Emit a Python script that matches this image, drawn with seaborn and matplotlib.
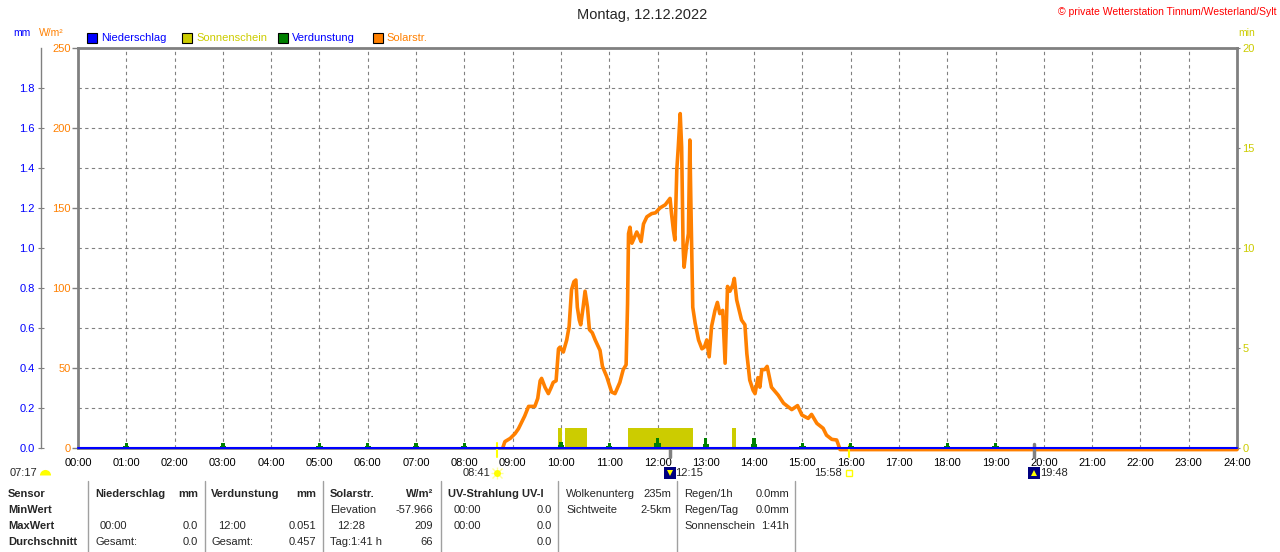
import numpy as np
import pandas as pd
import matplotlib
matplotlib.use("Agg")
import matplotlib.pyplot as plt
import matplotlib.transforms as mtransforms
from matplotlib.lines import Line2D
from matplotlib.patches import Rectangle
import seaborn as sns

# ---------------- data ----------------
solar_t = [8.80, 8.84, 8.95, 9.05, 9.12, 9.25, 9.33, 9.46, 9.52, 9.57, 9.60, 9.67, 9.74, 9.80,
           9.84, 9.90, 9.95, 9.98, 10.05, 10.12, 10.17, 10.22, 10.27, 10.31, 10.34, 10.38,
           10.41, 10.46, 10.50, 10.55, 10.59, 10.65, 10.71, 10.81, 10.86, 10.95, 11.05, 11.12,
           11.22, 11.29, 11.35, 11.38, 11.40, 11.43, 11.47, 11.50, 11.57, 11.62, 11.66, 11.71,
           11.78, 11.88, 11.96, 12.05, 12.16, 12.26, 12.29, 12.33, 12.36, 12.40, 12.43, 12.47,
           12.50, 12.53, 12.55, 12.60, 12.64, 12.67, 12.69, 12.73, 12.78, 12.85, 12.92, 12.97,
           13.02, 13.07, 13.12, 13.19, 13.24, 13.29, 13.35, 13.40, 13.45, 13.50, 13.56, 13.59,
           13.64, 13.74, 13.81, 13.85, 13.91, 13.98, 14.02, 14.08, 14.12, 14.16, 14.22, 14.27,
           14.36, 14.50, 14.61, 14.78, 14.90, 14.99, 15.12, 15.19, 15.30, 15.43, 15.50, 15.61,
           15.71, 15.76, 15.78, 24.0]
solar_v = [0.5, 4, 6, 9, 12, 20, 26, 26, 31, 42, 43.5, 38, 34, 38,
           41, 42, 62, 63, 60, 67.5, 76, 99, 104, 105, 88, 80,
           77, 88, 98, 88, 74, 72, 67.5, 61, 51, 44.5, 35, 34,
           41, 49, 52, 90, 134, 138, 128, 130, 135, 132, 129, 140,
           144.5, 146.5, 147, 150, 152, 156, 146.5, 136, 130, 174, 188, 209,
           188, 126, 113, 126, 134, 192.5, 155, 88, 78, 67.5, 62, 63,
           67.5, 57, 76, 86, 91, 84, 86, 53, 101, 98, 102, 106,
           92.5, 80, 77, 59, 42.5, 36, 34, 44, 38, 49, 49, 51,
           38, 33, 28, 24, 26.5, 20.6, 18.5, 21, 15.4, 12.3, 8, 5.4,
           5, 0.8, -1, -1]

rain_t = [0.0, 24.0]
rain_v = [0.0, 0.0]

sun_start = [9.93, 10.08, 11.38, 13.55]
sun_end = [10.02, 10.55, 12.73, 13.63]
sun_min = [1.0, 1.0, 1.0, 1.0]

evap_t = [1, 3, 5, 6, 7, 8, 10, 11, 12, 13, 14, 15, 16, 18, 19]
evap_v = [0.025, 0.025, 0.025, 0.025, 0.025, 0.025, 0.028, 0.025, 0.051, 0.05, 0.05,
          0.025, 0.027, 0.025, 0.025]

hour_labels = ["00:00", "01:00", "02:00", "03:00", "04:00", "05:00", "06:00", "07:00",
               "08:00", "09:00", "10:00", "11:00", "12:00", "13:00", "14:00", "15:00",
               "16:00", "17:00", "18:00", "19:00", "20:00", "21:00", "22:00", "23:00", "24:00"]
solar_ticks = [0, 50, 100, 150, 200, 250]
mm_ticks = [0.0, 0.2, 0.4, 0.6, 0.8, 1.0, 1.2, 1.4, 1.6, 1.8]
min_ticks = [0, 5, 10, 15, 20]

sunrise_t, sunrise_lbl = 8.683, "08:41"
sunset_t, sunset_lbl = 15.967, "15:58"
moonset_t, moonset_lbl = 12.25, "12:15"
moonrise_t, moonrise_lbl = 19.8, "19:48"
dawn_lbl = "07:17"

# ---------------- style ----------------
sns.set_style("white")
plt.rcParams['font.family'] = ['Liberation Sans', 'DejaVu Sans']
plt.rcParams['font.size'] = 8

C_BLUE = "#0000FF"
C_ORANGE = "#FF8000"
C_YEL = "#CCCC00"
C_GREEN = "#008000"
C_GRAY = "#808080"

W, H = 1280, 552
fig = plt.figure(figsize=(W / 100, H / 100), dpi=100)
L, R, T, B = 78, 1237, 48, 448
ax = fig.add_axes([L / W, 1 - B / H, (R - L) / W, (B - T) / H])


def fx(x):
    return x / W


def fy(y):
    return 1 - y / H


# solar radiation
df_solar = pd.DataFrame({"t": solar_t, "v": solar_v})
sns.lineplot(data=df_solar, x="t", y="v", ax=ax, color=C_ORANGE, linewidth=2.6,
             clip_on=False, zorder=3)
ax.set_xlim(0, 24)
ax.set_ylim(0, 250)
ax.set_xlabel("")
ax.set_ylabel("")
ax.set_xticks(range(25))
ax.set_xticklabels(hour_labels)
ax.set_yticks(solar_ticks)
ax.set_yticklabels([str(v) for v in solar_ticks])
ax.set_yticks(np.arange(25, 250, 50), minor=True)
ax.tick_params(axis='y', which='major', colors=C_GRAY, labelcolor=C_ORANGE, length=4,
               width=1, pad=1, labelsize=8)
ax.tick_params(axis='y', which='minor', length=0)
ax.tick_params(axis='x', length=0, pad=7, labelsize=8, labelcolor='black')
ax.grid(True, which='both', axis='y', color=C_GRAY, linestyle=(0, (3, 3)), linewidth=0.8)
ax.grid(True, which='major', axis='x', color=C_GRAY, linestyle=(0, (3, 3)), linewidth=0.8)
for s in ax.spines.values():
    s.set_color(C_GRAY)
    s.set_linewidth(2)

# sunshine (right axis, minutes)
ax_sun = ax.twinx()
ax_sun.set_ylim(0, 20)
ax_sun.bar(sun_start, sun_min, width=np.subtract(sun_end, sun_start), align='edge',
           color=C_YEL, linewidth=0, zorder=2)
ax_sun.set_yticks(min_ticks)
ax_sun.set_yticklabels([str(v) for v in min_ticks])
ax_sun.tick_params(axis='y', colors=C_GRAY, labelcolor=C_YEL, length=2.5, pad=1.5, labelsize=8)
for s in ax_sun.spines.values():
    s.set_visible(False)

# precipitation / evaporation (left mm axis)
ax_mm = ax.twinx()
ax_mm.set_ylim(0, 2.0)
ax_mm.yaxis.tick_left()
ax_mm.yaxis.set_label_position('left')
for k, s in ax_mm.spines.items():
    s.set_visible(False)
ax_mm.spines['left'].set_visible(True)
ax_mm.spines['left'].set_position(('axes', (41 - L) / (R - L)))
ax_mm.spines['left'].set_color(C_GRAY)
ax_mm.spines['left'].set_linewidth(1)
ax_mm.set_yticks(mm_ticks)
ax_mm.set_yticklabels([f"{v:.1f}" for v in mm_ticks])
ax_mm.tick_params(axis='y', direction='inout', length=5, colors=C_GRAY, labelcolor=C_BLUE,
                  pad=2, labelsize=8)
ax_mm.bar(evap_t, np.asarray(evap_v) * 0.45, width=0.13, color=C_GREEN, linewidth=0, zorder=3)
ax_mm.bar(evap_t, evap_v, width=0.07, color=C_GREEN, linewidth=0, zorder=3)
sns.lineplot(x=rain_t, y=rain_v, ax=ax_mm, color=C_BLUE, linewidth=1.5, clip_on=False, zorder=5)
ax_mm.set_xlabel("")
ax_mm.set_ylabel("")

# ---------------- sun / moon events ----------------
trans = mtransforms.blended_transform_factory(ax.transData, ax.transAxes)
ax.axvline(sunrise_t, ymin=-0.0225, ymax=0.0125, clip_on=False, color="#FFFF00", lw=1.5, zorder=6)
ax.axvline(sunset_t, ymin=-0.0225, ymax=0.008, clip_on=False, color="#FFFF00", lw=1.5, zorder=6)
ax.axvline(moonset_t, ymin=-0.0225, ymax=0.0, clip_on=False, color=C_GRAY, lw=2.5, zorder=6)
ax.axvline(moonrise_t, ymin=-0.0225, ymax=0.01, clip_on=False, color=C_GRAY, lw=2.5, zorder=6)

ly = (B - 473) / (B - T)
# sunrise label + sun icon
ax.annotate(sunrise_lbl, xy=(sunrise_t, ly), xycoords=trans, xytext=(-5, 0),
            textcoords='offset points', ha='right', va='center', fontsize=8, annotation_clip=False)
ax.plot([sunrise_t], [ly], transform=trans, marker='+', ms=9, mew=1, color="#FFFF99", clip_on=False)
ax.plot([sunrise_t], [ly], transform=trans, marker='x', ms=7, mew=1, color="#FFFF99", clip_on=False)
ax.plot([sunrise_t], [ly], transform=trans, marker='o', ms=5, mew=0, color="#FFFF00", clip_on=False)
# sunset label + icon
ax.annotate(sunset_lbl, xy=(sunset_t, ly), xycoords=trans, xytext=(-5, 0),
            textcoords='offset points', ha='right', va='center', fontsize=8, annotation_clip=False)
ax.plot([sunset_t], [ly], transform=trans, marker='s', ms=5, mfc='none', mec="#FFFF00", mew=1,
        clip_on=False)
# moon events
for mt, lbl, arrow in [(moonset_t, moonset_lbl, 'v'), (moonrise_t, moonrise_lbl, '^')]:
    ax.plot([mt], [ly], transform=trans, marker='s', ms=8, mew=0, color="#000080", clip_on=False)
    ax.plot([mt], [ly], transform=trans, marker=arrow, ms=4, mew=0, color="#FFFF00", clip_on=False)
    ax.annotate(lbl, xy=(mt, ly), xycoords=trans, xytext=(4, 0), textcoords='offset points',
                ha='left', va='center', fontsize=8, annotation_clip=False)
# dawn
fig.text(fx(10), fy(473), dawn_lbl, ha='left', va='center', fontsize=8)
fig.add_artist(Line2D([fx(45)], [fy(475)], transform=fig.transFigure, marker='o', ms=8,
                      fillstyle='top', mfc="#FFFF00", mfcalt='none', mew=0, ls='none'))

# ---------------- titles and legend ----------------
fig.text(fx(642), fy(15), "Montag, 12.12.2022", ha='center', va='center', fontsize=10.5)
fig.text(fx(1276), fy(12), "© private Wetterstation Tinnum/Westerland/Sylt", ha='right',
         va='center', color='red', fontsize=7.5)
fig.text(fx(13), fy(33), "mm", ha='left', va='center', color=C_BLUE, fontsize=7.5)
fig.text(fx(39), fy(33), "W/m²", ha='left', va='center', color=C_ORANGE, fontsize=7.5)
fig.text(fx(1238), fy(33), "min", ha='left', va='center', color=C_YEL, fontsize=7.5)

legend_items = [("Niederschlag", C_BLUE, C_BLUE), ("Sonnenschein", C_YEL, C_YEL),
                ("Verdunstung", C_GREEN, C_BLUE), ("Solarstr.", C_ORANGE, C_ORANGE)]
for i, (lbl, bc, tc) in enumerate(legend_items):
    bx = 87 + i * 95.3
    fig.add_artist(Rectangle((fx(bx), fy(43)), 10 / W, 10 / H, transform=fig.transFigure,
                             facecolor=bc, edgecolor='black', linewidth=0.8))
    fig.text(fx(bx + 14), fy(38), lbl, ha='left', va='center', color=tc, fontsize=8)

# ---------------- bottom table ----------------
for sx in [88, 205, 323, 441, 558, 677, 795]:
    fig.add_artist(Line2D([fx(sx), fx(sx)], [fy(481), fy(552)], transform=fig.transFigure,
                          color="#A0A0A0", lw=1))

rows_y = [494, 510, 526, 542]
row_names = ["Sensor", "MinWert", "MaxWert", "Durchschnitt"]
for ry, name in zip(rows_y, row_names):
    fig.text(fx(8), fy(ry), name, ha='left', va='center', fontsize=8, fontweight='bold')

# (x, y-row index, text, align, bold)
cells = [
    (95, 0, "Niederschlag", 'left', True), (198, 0, "mm", 'right', True),
    (100, 2, "00:00", 'left', False), (198, 2, "0.0", 'right', False),
    (95, 3, "Gesamt:", 'left', False), (198, 3, "0.0", 'right', False),
    (211, 0, "Verdunstung", 'left', True), (316, 0, "mm", 'right', True),
    (218, 2, "12:00", 'left', False), (316, 2, "0.051", 'right', False),
    (211, 3, "Gesamt:", 'left', False), (316, 3, "0.457", 'right', False),
    (330, 0, "Solarstr.", 'left', True), (433, 0, "W/m²", 'right', True),
    (330, 1, "Elevation", 'left', False), (433, 1, "-57.966", 'right', False),
    (337, 2, "12:28", 'left', False), (433, 2, "209", 'right', False),
    (330, 3, "Tag:1:41 h", 'left', False), (433, 3, "66", 'right', False),
    (448, 0, "UV-Strahlung UV-I", 'left', True),
    (454, 1, "00:00", 'left', False), (552, 1, "0.0", 'right', False),
    (454, 2, "00:00", 'left', False), (552, 2, "0.0", 'right', False),
    (552, 3, "0.0", 'right', False),
    (566, 0, "Wolkenunterg", 'left', False), (671, 0, "235m", 'right', False),
    (566, 1, "Sichtweite", 'left', False), (671, 1, "2-5km", 'right', False),
    (684, 0, "Regen/1h", 'left', False), (789, 0, "0.0mm", 'right', False),
    (684, 1, "Regen/Tag", 'left', False), (789, 1, "0.0mm", 'right', False),
    (684, 2, "Sonnenschein", 'left', False), (789, 2, "1:41h", 'right', False),
]
for cx, ri, txt, ha, bold in cells:
    fig.text(fx(cx), fy(rows_y[ri]), txt, ha=ha, va='center', fontsize=8,
             fontweight='bold' if bold else 'normal')

fig.savefig("out.png", dpi=100)
